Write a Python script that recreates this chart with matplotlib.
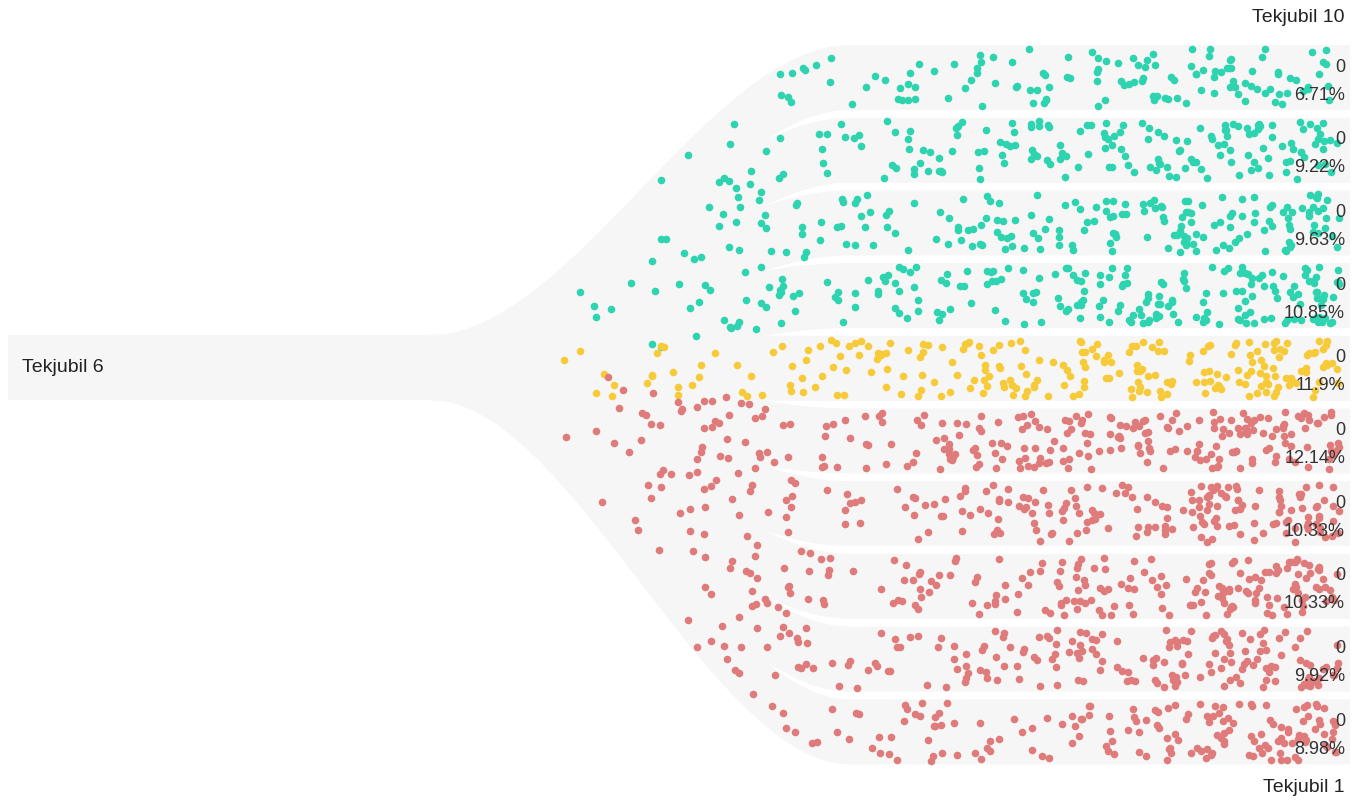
import numpy as np
import matplotlib.pyplot as plt
from matplotlib.patches import Polygon

plt.rcParams['font.family'] = ['Liberation Sans', 'DejaVu Sans']

source = 'Tekjubil 6'
targets = ['Tekjubil 10', 'Tekjubil 9', 'Tekjubil 8', 'Tekjubil 7', 'Tekjubil 6',
           'Tekjubil 5', 'Tekjubil 4', 'Tekjubil 3', 'Tekjubil 2', 'Tekjubil 1']
counts = [0, 0, 0, 0, 0, 0, 0, 0, 0, 0]
shares = ['6.71%', '9.22%', '9.63%', '10.85%', '11.9%',
          '12.14%', '10.33%', '10.33%', '9.92%', '8.98%']
colors = ['#2ed3b0'] * 4 + ['#f7ca3a'] + ['#e07b7b'] * 5

W, H = 1367, 810
fig = plt.figure(figsize=(W / 100, H / 100), dpi=100)
ax = fig.add_axes([0, 0, 1, 1])
ax.set_xlim(0, W)
ax.set_ylim(H, 0)
ax.axis('off')

band_h = 65
src_top = 335
x0, x1, x_end = 430, 850, 1350
tops = [45 + i * 72.7 for i in range(len(targets))]

def path_y(x, ys, yt):
    t = np.clip((x - x0) / (x1 - x0), 0, 1)
    s = 3 * t ** 2 - 2 * t ** 3
    return ys + (yt - ys) * s

gray = '#f6f6f6'
ax.add_patch(plt.Rectangle((8, src_top), x0 - 8, band_h, color=gray, lw=0))
xs = np.linspace(x0, x1, 80)
for top in tops:
    upper = path_y(xs, src_top, top)
    lower = upper + band_h
    pts = list(zip(xs, upper)) + [(x_end, top), (x_end, top + band_h)] + list(zip(xs[::-1], lower[::-1]))
    ax.add_patch(Polygon(pts, closed=True, color=gray, lw=0))

# decorative particles moving along each flow (fixed seed)
rng = np.random.default_rng(3)
for top, c, sh in zip(tops, colors, shares):
    n = int(float(sh[:-1]) * 20)
    px = 550 + 790 * np.sqrt(rng.uniform(0, 1, n))
    off = rng.uniform(-29, 29, n)
    py = path_y(px, src_top + band_h / 2, top + band_h / 2) + off
    ax.scatter(px, py, s=30, color=c, lw=0, zorder=3)

ax.text(22, src_top + band_h / 2, source, fontsize=14, va='center', ha='left', color='#222')
for top, cnt, sh in zip(tops, counts, shares):
    ax.text(1345, top + 22, str(cnt), fontsize=13, va='center', ha='right', color='#333', zorder=4)
    ax.text(1345, top + 50, sh, fontsize=13, va='center', ha='right', color='#333', zorder=4)
ax.text(1345, 18, targets[0], fontsize=14, va='center', ha='right', color='#222')
ax.text(1345, 788, targets[-1], fontsize=14, va='center', ha='right', color='#222')

fig.savefig('out.png', dpi=100)
